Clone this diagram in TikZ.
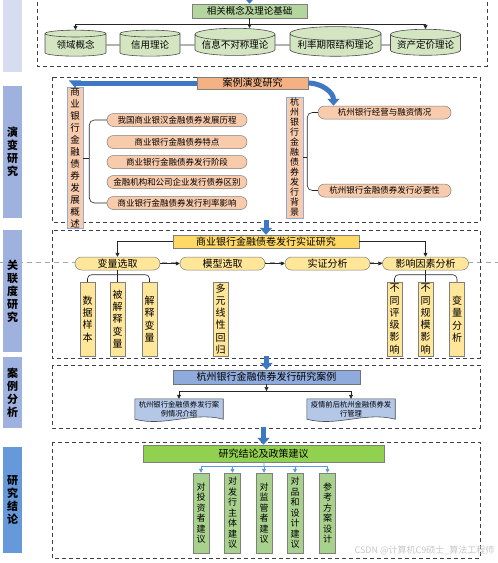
\documentclass[tikz,border=0pt]{standalone}
\usepackage{fontspec}
\setmainfont{Noto Sans CJK SC}
\usetikzlibrary{arrows.meta,calc,positioning,shapes.geometric,backgrounds}
\definecolor{barpale}{HTML}{D6DDF1}
\definecolor{barblue}{HTML}{9FB1DF}
\definecolor{bardeep}{HTML}{6699D9}
\definecolor{sage}{HTML}{D3E6C1}
\definecolor{sagedark}{HTML}{B5D59E}
\definecolor{peach}{HTML}{F8CBAD}
\definecolor{salmon}{HTML}{F4B183}
\definecolor{edgeblue}{HTML}{8FAADC}
\definecolor{amber}{HTML}{FFD966}
\definecolor{cream}{HTML}{FFE699}
\definecolor{slate}{HTML}{8FAADC}
\definecolor{paleblue}{HTML}{B4C7E7}
\definecolor{lime}{HTML}{92D050}
\definecolor{moss}{HTML}{A9D18E}
\definecolor{flowblue}{HTML}{3E78C2}
\definecolor{thinblue}{HTML}{5B9BD5}
\definecolor{edgegray}{HTML}{7F7F7F}
% one character per line
\newcommand\vchars[1]{\vcharsaux#1\relax}
\def\vcharsaux#1#2{#1\ifx#2\relax\else\par\expandafter\vcharsaux\expandafter#2\fi}
\tikzset{
 secbox/.style={draw=black!75,line width=.8pt,dash pattern=on 4pt off 3pt},
 sidebar/.style={minimum width=19pt,inner sep=0pt,text width=12pt,align=center,font=\fontsize{11}{13}\selectfont\bfseries},
 flatbox/.style={draw=edgegray,line width=.5pt,inner sep=0pt},
 pill/.style={flatbox,rounded corners=6.5pt,minimum height=13pt},
 vbox/.style={flatbox,text width=11pt,align=center},
 ysub/.style={vbox,fill=cream,minimum width=15pt,minimum height=74pt,font=\fontsize{10}{12.3}\selectfont},
 gsub/.style={vbox,fill=moss,minimum width=16pt,minimum height=80pt,font=\fontsize{9}{10.5}\selectfont},
 cyl/.style={cylinder,shape border rotate=90,aspect=.18,draw=black!70,fill=sage,line width=.6pt,inner sep=0pt,minimum height=26pt,font=\fontsize{9.5}{10}\selectfont},
 docline/.style={draw=black!70,line width=.6pt,fill=paleblue},
 tipline/.style={draw=black!85,line width=.6pt,-{Triangle[width=4pt,length=4pt]}},
 plainline/.style={draw=black!85,line width=.6pt},
 bluetip/.style={draw=thinblue,line width=.7pt,-{Triangle[width=4pt,length=4pt]}},
 bigarrow/.style={draw=flowblue,line width=5pt,-{Triangle[width=12pt,length=7pt]}},
}

\begin{document}
\begin{tikzpicture}[x=1pt,y=-1pt]
 \useasboundingbox(0,0)rectangle(498,563);
 \draw[black!35,line width=.6pt,dash pattern=on 5pt off 4pt](0,262)--(498,262);
 % stages
 \draw[secbox](37,-5)rectangle(487,66);
 \draw[secbox](52,77)rectangle(480,222);
 \draw[secbox](52,230)rectangle(480,358);
 \draw[secbox](52,365)rectangle(480,428);
 \draw[secbox](52,442)rectangle(480,558);
 \node[sidebar,fill=barpale,minimum height=90pt](barA)at(12.5,27){};
 \node[sidebar,fill=barblue,minimum height=132pt](barB)at(12.5,152){\vchars{演变研究}};
 \node[sidebar,fill=barblue,minimum height=122pt](barC)at(12.5,291){\vchars{关联度研究}};
 \node[sidebar,fill=barblue,minimum height=71pt](barD)at(12.5,392.5){\vchars{案例分析}};
 \node[sidebar,fill=bardeep,minimum height=106pt](barE)at(12.5,500){\vchars{研究结论}};

 % theory
 \node[flatbox,fill=sagedark,minimum width=115pt,minimum height=14pt,font=\fontsize{9.5}{10}\selectfont](base)at(249.5,11){相关概念及理论基础};
 \node[cyl,minimum width=61pt](cy1)at(75.5,45){领域概念};
 \node[cyl,minimum width=60pt](cy2)at(150,45){信用理论};
 \node[cyl,minimum width=80pt](cy3)at(235,45){信息不对称理论};
 \node[cyl,minimum width=91pt](cy4)at(335.5,45){利率期限结构理论};
 \node[cyl,minimum width=70pt](cy5)at(425.5,45){资产定价理论};
 \coordinate(split)at(249.5,24);
 \draw[tipline](base.south)--(base.south|-cy3.north);
 \draw[tipline](split)-|(cy1.north);
 \draw[tipline](split)-|(cy5.north);
 \draw[plainline](cy1)--(cy2);\draw[plainline](cy2)--(cy3);
 \draw[plainline](cy3)--(cy4);\draw[plainline](cy4)--(cy5);

 % evolution
 \node[flatbox,fill=salmon,minimum width=111pt,minimum height=12pt,font=\fontsize{10}{11}\selectfont](case)at(252.5,83){案例演变研究};
 \node[vbox,draw=edgeblue,fill=peach,minimum width=16pt,minimum height=120pt,font=\fontsize{9.5}{12}\selectfont](devt)at(75,158){\vchars{商业银行金融债券发展概述}};
 \node[vbox,draw=edgeblue,fill=peach,minimum width=17pt,minimum height=121pt,font=\fontsize{9}{10}\selectfont](bkgd)at(294.5,157.5){\vchars{杭州银行金融债券发行背景}};
 \node[pill,fill=peach,minimum width=140pt,font=\fontsize{8.5}{9}\selectfont](hist)at(177,120){我国商业银汉金融债券发展历程};
 \node[pill,fill=peach,minimum width=140pt,font=\fontsize{8.5}{9}\selectfont](feat)at(177,142){商业银行金融债券特点};
 \node[pill,fill=peach,minimum width=140pt,font=\fontsize{8.5}{9}\selectfont](stage)at(177,162){商业银行金融债券发行阶段};
 \node[pill,fill=peach,minimum width=140pt,font=\fontsize{8.5}{9}\selectfont](diff)at(177,182){金融机构和公司企业发行债券区别};
 \node[pill,fill=peach,minimum width=140pt,font=\fontsize{8.5}{9}\selectfont](rate)at(177,203){商业银行金融债券发行利率影响};
 \node[pill,fill=peach,minimum width=133pt,font=\fontsize{8.5}{9}\selectfont](oper)at(384.5,112.5){杭州银行经营与融资情况};
 \node[pill,fill=peach,minimum width=133pt,font=\fontsize{8.5}{9}\selectfont](need)at(384.5,190.5){杭州银行金融债券发行必要性};
 \draw[plainline,rounded corners=5pt](hist.west)-|([xshift=6pt]devt.east)|-(rate.west);
 \draw[plainline](devt.east)--++(6,0);
 \draw[plainline,rounded corners=5pt](oper.west)-|([xshift=4pt]bkgd.east)|-(need.west);
 \draw[plainline](bkgd.east)--++(4,0);
 \draw[bigarrow](case.west)-|(devt.north);
 \draw[bigarrow](case.east)to[out=0,in=90]([xshift=-51pt]oper.north);

 % empirical
 \coordinate(inB)at(266,220);
 \node[flatbox,fill=amber,minimum width=186pt,minimum height=13pt,font=\fontsize{10}{11}\selectfont](empir)at(266,241.5){商业银行金融债卷发行实证研究};
 \draw[bigarrow](inB)--(empir);
 \node[pill,fill=cream,minimum width=85pt,font=\fontsize{10}{11}\selectfont](varsel)at(117.5,263.5){变量选取};
 \node[pill,fill=cream,minimum width=85pt,font=\fontsize{10}{11}\selectfont](modsel)at(222.5,263.5){模型选取};
 \node[pill,fill=cream,minimum width=85pt,font=\fontsize{10}{11}\selectfont](anal)at(327.5,263.5){实证分析};
 \node[pill,fill=cream,minimum width=86pt,font=\fontsize{10}{11}\selectfont](factor)at(425.5,263.5){影响因素分析};
 \draw[tipline](empir.west)-|(varsel.north);
 \draw[tipline](empir.east)-|(factor.north);
 \draw[tipline](varsel)--(modsel);
 \draw[tipline](modsel)--(anal);
 \draw[tipline](anal)--(factor);
 \node[ysub](sample)at(87.5,319){\vchars{数据样本}};
 \node[ysub](dep)at(117.5,319){\vchars{被解释变量}};
 \node[ysub](indep)at(149.5,319){\vchars{解释变量}};
 \node[ysub](linreg)at(220.5,319){\vchars{多元线性回归}};
 \node[ysub](grade)at(394.5,319){\vchars{不同评级影响}};
 \node[ysub](scale)at(425.5,319){\vchars{不同规模影响}};
 \node[ysub](vars)at(457,319){\vchars{变量分析}};
 \draw[plainline,rounded corners=4pt](sample.north)--++(0,-7)-|(indep.north);
 \draw[plainline](varsel.south)--(dep.north);
 \draw[plainline,rounded corners=4pt](grade.north)--++(0,-7)-|(vars.north);
 \draw[plainline](factor.south)--(scale.north);

 % case study
 \coordinate(inC)at(266.5,356);
 \node[flatbox,draw=black!55,fill=slate,minimum width=187pt,minimum height=14pt,font=\fontsize{10}{11}\selectfont](case2)at(266.5,377){杭州银行金融债券发行研究案例};
 \draw[bigarrow](inC)--(case2);
 \node[inner sep=1pt,align=center,minimum width=88pt,minimum height=20pt,font=\fontsize{7.3}{9}\selectfont](intro)at(179,409){杭州银行金融债券发行案\\例情况介绍};
 \node[inner sep=1pt,align=center,minimum width=88pt,minimum height=20pt,font=\fontsize{7.3}{9}\selectfont](mgmt)at(351,409){疫情前后杭州金融债券发\\行管理};
 \begin{scope}[on background layer]
  \draw[docline](intro.south west)--(intro.north west)--(intro.north east)--(intro.south east)..controls+(-30,-8)and+(30,8)..(intro.south west);
  \draw[docline](mgmt.south west)--(mgmt.north west)--(mgmt.north east)--(mgmt.south east)..controls+(-30,-8)and+(30,8)..(mgmt.south west);
 \end{scope}
 \coordinate(fork)at(266.5,391);
 \draw[tipline](case2)--(fork);
 \draw[tipline](fork)-|(intro.north);
 \draw[tipline](fork)-|(mgmt.north);

 % conclusions
 \coordinate(inD)at(263.5,427);
 \node[flatbox,fill=lime,minimum width=241pt,minimum height=17pt,font=\fontsize{10}{11}\selectfont](concl)at(263.5,453.5){研究结论及政策建议};
 \draw[bigarrow](inD)--(concl);
 \node[gsub](inv)at(201,513){\vchars{对投资者建议}};
 \node[gsub](iss)at(232.5,513){\vchars{对发行主体建议}};
 \node[gsub](reg)at(264,513){\vchars{对监管者建议}};
 \node[gsub](prod)at(295,513){\vchars{对品和设计建议}};
 \node[gsub](ref)at(327.5,513){\vchars{参考方案设计}};
 \coordinate(gfork)at(264,466);
 \draw[thinblue,line width=.7pt](concl)--(gfork);
 \foreach \g in {inv,iss,reg,prod,ref}\draw[bluetip](gfork)-|(\g.north);

 \coordinate(inA)at(249.5,-4);
 \draw[bigarrow](inA)--(base);
 \node[anchor=east,text=black!22,font=\fontsize{9}{10}\selectfont](wm)at(498,550){CSDN @计算机C9硕士\_算法工程师};
\end{tikzpicture}
\end{document}
